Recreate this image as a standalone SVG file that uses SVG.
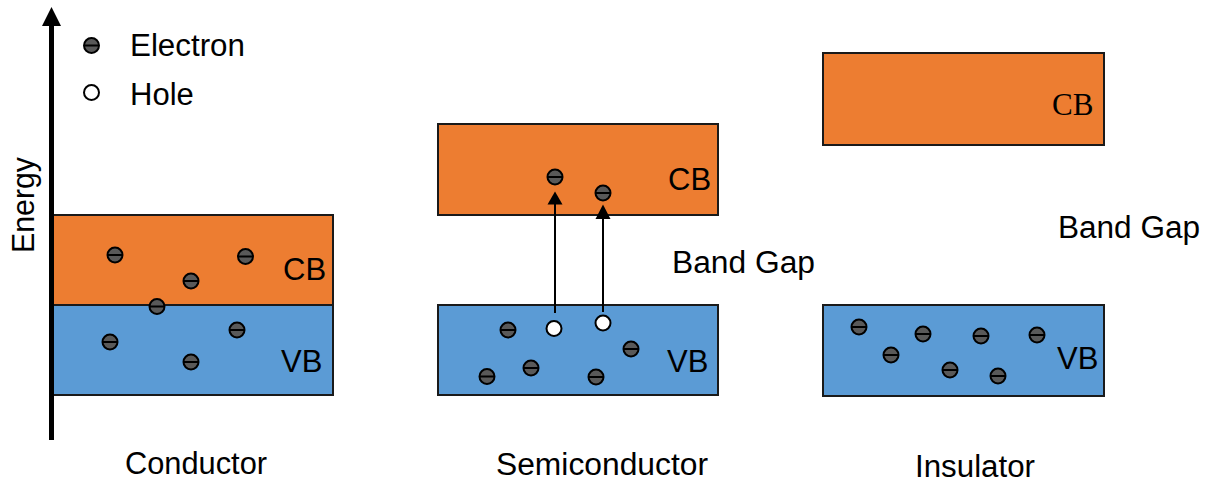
<svg xmlns="http://www.w3.org/2000/svg" width="1210" height="485" viewBox="0 0 1210 485">
<style>
.t{font-family:"Liberation Sans",Arial,sans-serif;font-size:31px;fill:#000}
.ts{font-family:"Liberation Serif","Times New Roman",serif;font-size:31px;fill:#000}
.cb{fill:#ED7D31;stroke:#1a1a1a;stroke-width:2}
.vb{fill:#5B9BD5;stroke:#1a1a1a;stroke-width:2}
.hole{fill:#fff;stroke:#000;stroke-width:2}
.arr{stroke:#000;stroke-width:2;fill:none}
</style>
<defs>
<g id="e"><circle r="7.5" fill="#595959" stroke="#000" stroke-width="2"/><line x1="-7.5" y1="0" x2="7.5" y2="0" stroke="#000" stroke-width="2"/></g>
</defs>
<rect width="1210" height="485" fill="#fff"/>

<g id="legend">
<use href="#e" x="91.5" y="45.5"/>
<text class="t" x="130" y="56" textLength="115" lengthAdjust="spacingAndGlyphs">Electron</text>
<circle class="hole" cx="91.5" cy="92.5" r="7.5"/>
<text class="t" x="130" y="105">Hole</text>
</g>

<g id="conductor">
<rect class="cb" x="53" y="215" width="280" height="90"/>
<rect class="vb" x="53" y="305" width="280" height="90"/>
<text class="t" x="283" y="280">CB</text>
<text class="t" x="281" y="372">VB</text>
<use href="#e" x="115" y="255"/>
<use href="#e" x="245.5" y="256.5"/>
<use href="#e" x="191" y="281"/>
<use href="#e" x="157" y="306.5"/>
<use href="#e" x="110" y="342"/>
<use href="#e" x="237" y="330"/>
<use href="#e" x="191" y="362"/>
<text class="t" x="196" y="474" text-anchor="middle" textLength="142" lengthAdjust="spacingAndGlyphs">Conductor</text>
</g>

<g id="semiconductor">
<rect class="cb" x="438" y="124" width="280" height="91"/>
<rect class="vb" x="438" y="305" width="280" height="90"/>
<text class="t" x="668" y="190">CB</text>
<text class="t" x="667" y="372">VB</text>
<text class="t" x="672" y="273" textLength="143" lengthAdjust="spacingAndGlyphs">Band Gap</text>
<use href="#e" x="555" y="177"/>
<use href="#e" x="603" y="193"/>
<circle class="hole" cx="554" cy="328.5" r="7.5"/>
<circle class="hole" cx="603" cy="323" r="7.5"/>
<use href="#e" x="508" y="330"/>
<use href="#e" x="487" y="376.5"/>
<use href="#e" x="531" y="368"/>
<use href="#e" x="596" y="377"/>
<use href="#e" x="631" y="349"/>
<text class="t" x="602" y="475" text-anchor="middle" textLength="212" lengthAdjust="spacingAndGlyphs">Semiconductor</text>
</g>

<g id="insulator">
<rect class="cb" x="823" y="53" width="281" height="92"/>
<rect class="vb" x="823" y="305" width="281" height="91"/>
<text class="ts" x="1052" y="115">CB</text>
<text class="t" x="1057" y="369">VB</text>
<text class="t" x="1058" y="238" textLength="142" lengthAdjust="spacingAndGlyphs">Band Gap</text>
<use href="#e" x="859" y="327"/>
<use href="#e" x="923" y="334"/>
<use href="#e" x="981" y="336"/>
<use href="#e" x="1037" y="335"/>
<use href="#e" x="891" y="355"/>
<use href="#e" x="950" y="370"/>
<use href="#e" x="998" y="376"/>
<text class="t" x="975" y="477" text-anchor="middle" textLength="120" lengthAdjust="spacingAndGlyphs">Insulator</text>
</g>

<g id="axis">
<text class="t" transform="translate(34,253) rotate(-90)" textLength="96" lengthAdjust="spacingAndGlyphs">Energy</text>
</g>

<g id="connectors">
<line x1="51.5" y1="440" x2="51.5" y2="22" stroke="#000" stroke-width="5"/>
<polygon points="51.5,7 42,26 61,26" fill="#000"/>
<line class="arr" x1="555" y1="313" x2="555" y2="202"/>
<polygon points="555,191.5 547.5,204.5 562.5,204.5" fill="#000"/>
<line class="arr" x1="603" y1="312" x2="603" y2="217"/>
<polygon points="603,204.5 595.5,219 610.5,219" fill="#000"/>
</g>
</svg>
